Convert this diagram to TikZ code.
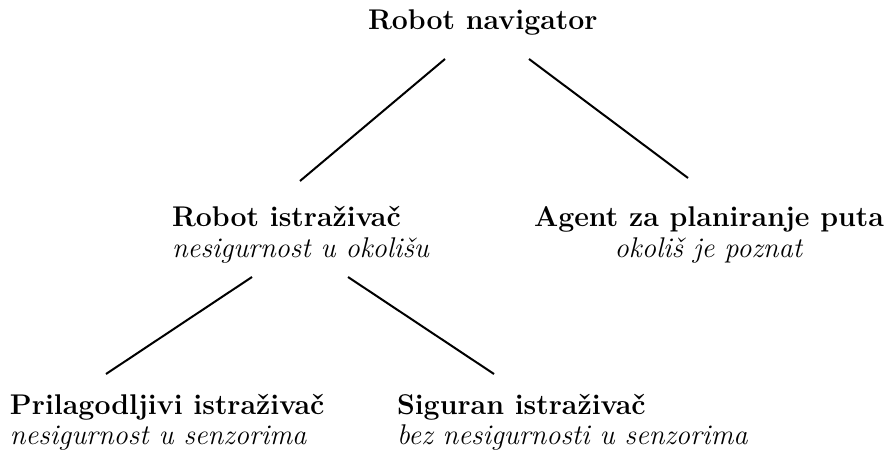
\documentclass[tikz,border=0pt]{standalone}
\usetikzlibrary{calc}
\begin{document}
\begin{tikzpicture}[x=0.5pt,y=-0.5pt,
  every node/.style={inner sep=0pt,outer sep=0pt,font=\fontsize{14.25}{15.2}\selectfont},
  edge/.style={line width=1pt}]
\useasboundingbox (0,0) rectangle (889,460);
\node[anchor=base west] (root) at (368,30) {\textbf{Robot navigator}};
\node[anchor=base west] (rob) at (172,227) {\begin{tabular}[t]{@{}l@{}}\textbf{Robot istraživač}\\ \textit{nesigurnost u okolišu}\end{tabular}};
\node[anchor=base] (agent) at (709,227) {\begin{tabular}[t]{@{}c@{}}\textbf{Agent za planiranje puta}\\ \textit{okoliš je poznat}\end{tabular}};
\node[anchor=base west] (pril) at (10,414) {\begin{tabular}[t]{@{}l@{}}\textbf{Prilagodljivi istraživač}\\ \textit{nesigurnost u senzorima}\end{tabular}};
\node[anchor=base west] (sig) at (397,414) {\begin{tabular}[t]{@{}l@{}}\textbf{Siguran istraživač}\\ \textit{bez nesigurnosti u senzorima}\end{tabular}};
\draw[edge] ($(root.base west)+(77,29)$) -- ($(rob.base west)+(128,-46)$);
\draw[edge] ($(root.base west)+(161,29)$) -- ($(agent.base)+(-21,-49)$);
\draw[edge] ($(rob.base west)+(80,50)$) -- ($(pril.base west)+(96,-40)$);
\draw[edge] ($(rob.base west)+(176,50)$) -- ($(sig.base west)+(97,-40)$);
\end{tikzpicture}
\end{document}
